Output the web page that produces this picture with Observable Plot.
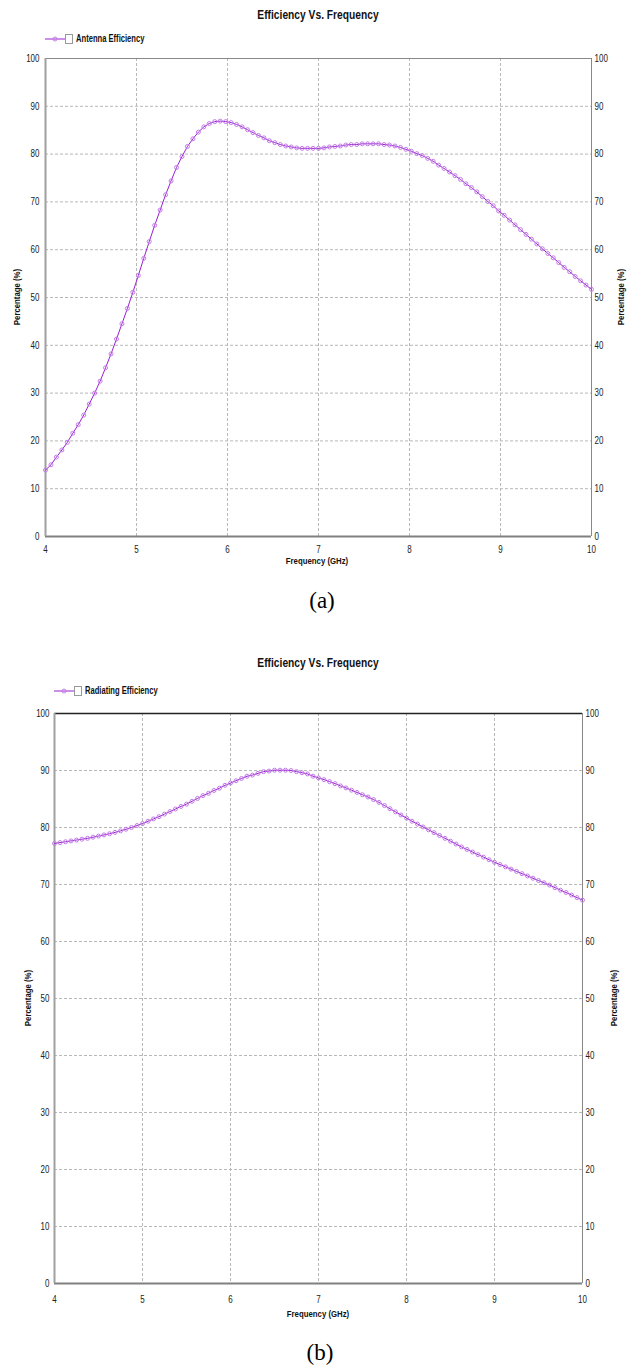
<!DOCTYPE html>
<html><head><meta charset="utf-8">
<script src="https://cdn.jsdelivr.net/npm/d3@7"></script>
<script src="https://cdn.jsdelivr.net/npm/@observablehq/plot@0.6"></script>
<style>
body{margin:0;background:#fff;width:630px;height:1365px;position:relative;overflow:hidden;
 font-family:"Liberation Sans Narrow","Arial Narrow","Liberation Sans",sans-serif;color:#222;}
.abs{position:absolute;white-space:nowrap;line-height:1;}
.c{transform:translate(-50%,-50%) scaleX(0.82);}
.title{font-weight:bold;font-size:12.5px;color:#111;}
.leg{font-weight:bold;font-size:10px;color:#111;display:flex;align-items:center;}
.leg span{display:inline-block;transform:scaleX(0.76);transform-origin:0 50%;}
.axl{font-weight:bold;font-size:9.5px;color:#111;}
.rot{transform:translate(-50%,-50%) rotate(-90deg) scaleX(0.82);}
.cap{font-family:"Liberation Serif","Times New Roman",serif;font-size:23px;color:#000;}
.cap.c{transform:translate(-50%,-50%);}
svg.plot{position:absolute;left:0;}
</style></head><body>
<script>
// ---- data ----
const xTicks = [4, 5, 6, 7, 8, 9, 10];
const yTicks = [0, 10, 20, 30, 40, 50, 60, 70, 80, 90, 100];
const titleText = "Efficiency Vs. Frequency";
const xLabel = "Frequency (GHz)";
const yLabel = "Percentage (%)";
const seriesA = "Antenna Efficiency";
const seriesB = "Radiating Efficiency";

const freqA = [4.00,4.06,4.12,4.18,4.24,4.30,4.36,4.42,4.48,4.54,4.60,4.66,4.72,4.78,4.84,4.90,4.96,5.02,5.08,5.14,
5.20,5.26,5.32,5.38,5.44,5.50,5.56,5.62,5.68,5.74,5.80,5.86,5.92,5.98,6.04,6.10,6.16,6.22,6.28,6.34,
6.40,6.46,6.52,6.58,6.64,6.70,6.76,6.82,6.88,6.94,7.00,7.06,7.12,7.18,7.24,7.30,7.36,7.42,7.48,7.54,
7.60,7.66,7.72,7.78,7.84,7.90,7.96,8.02,8.08,8.14,8.20,8.26,8.32,8.38,8.44,8.50,8.56,8.62,8.68,8.74,
8.80,8.86,8.92,8.98,9.04,9.10,9.16,9.22,9.28,9.34,9.40,9.46,9.52,9.58,9.64,9.70,9.76,9.82,9.88,9.94,10.00];
const effA = [13.9,15.0,16.6,18.1,19.7,21.6,23.4,25.4,27.7,30.0,32.5,35.3,38.2,41.3,44.5,47.7,51.1,54.6,58.2,61.7,
65.1,68.3,71.5,74.4,77.2,79.5,81.6,83.2,84.6,85.7,86.4,86.8,86.9,86.8,86.6,86.2,85.7,85.1,84.5,83.9,
83.4,82.8,82.4,82.0,81.7,81.5,81.3,81.2,81.2,81.2,81.2,81.3,81.5,81.6,81.7,81.9,82.0,82.0,82.15,82.15,
82.15,82.15,82.0,81.9,81.7,81.4,81.0,80.6,80.1,79.7,79.1,78.5,77.7,77.0,76.25,75.5,74.7,73.8,73.0,72.1,
71.1,70.1,69.2,68.1,67.2,66.2,65.2,64.2,63.2,62.2,61.2,60.2,59.2,58.3,57.3,56.3,55.4,54.4,53.5,52.6,51.7];

const freqB = [4,4.0625,4.125,4.1875,4.25,4.3125,4.375,4.4375,4.5,4.5625,4.625,4.6875,4.75,4.8125,4.875,4.9375,
5,5.0625,5.125,5.1875,5.25,5.3125,5.375,5.4375,5.5,5.5625,5.625,5.6875,5.75,5.8125,5.875,5.9375,
6,6.0625,6.125,6.1875,6.25,6.3125,6.375,6.4375,6.5,6.5625,6.625,6.6875,6.75,6.8125,6.875,6.9375,
7,7.0625,7.125,7.1875,7.25,7.3125,7.375,7.4375,7.5,7.5625,7.625,7.6875,7.75,7.8125,7.875,7.9375,
8,8.0625,8.125,8.1875,8.25,8.3125,8.375,8.4375,8.5,8.5625,8.625,8.6875,8.75,8.8125,8.875,8.9375,
9,9.0625,9.125,9.1875,9.25,9.3125,9.375,9.4375,9.5,9.5625,9.625,9.6875,9.75,9.8125,9.875,9.9375,10];
const effB = [77.2,77.35,77.5,77.65,77.8,77.95,78.1,78.3,78.5,78.7,78.9,79.15,79.4,79.7,80.0,80.35,
80.7,81.1,81.5,81.9,82.35,82.8,83.25,83.7,84.1,84.6,85.1,85.6,86.0,86.5,86.9,87.4,
87.8,88.2,88.6,89.0,89.2,89.5,89.8,89.9,90.05,90.05,90.05,90.0,89.8,89.6,89.4,89.0,
88.7,88.4,88.05,87.7,87.3,86.95,86.55,86.15,85.75,85.35,84.9,84.4,83.85,83.3,82.75,82.2,
81.65,81.1,80.6,80.1,79.6,79.1,78.6,78.1,77.6,77.1,76.6,76.15,75.7,75.25,74.8,74.35,
73.9,73.5,73.1,72.7,72.3,71.9,71.5,71.1,70.7,70.3,69.9,69.45,69.0,68.6,68.15,67.7,67.25];

const lineColor = "#9a1fd0";
const dotColor = "#c27de8";

function addText(cls, txt, x, y){
  const d = document.createElement("div");
  d.className = "abs " + cls;
  d.style.left = x + "px"; d.style.top = y + "px";
  d.textContent = txt;
  document.body.appendChild(d);
  return d;
}
function addLegend(txt, x, y){
  const d = document.createElement("div");
  d.className = "abs leg";
  d.style.left = x + "px"; d.style.top = (y - 6) + "px";
  d.innerHTML = `<svg width="30" height="12" style="margin-right:1px">
    <line x1="0" y1="6" x2="20" y2="6" stroke="${lineColor}" stroke-width="1"/>
    <circle cx="10" cy="6" r="2" fill="none" stroke="${dotColor}" stroke-width="1"/>
    <rect x="20.5" y="1.5" width="7" height="9" fill="#fff" stroke="#999" stroke-width="1"/>
  </svg><span>${txt}</span>`;
  document.body.appendChild(d);
}

function chart(freq, eff, o){
  const data = freq.map((f, i) => ({f, v: eff[i]}));
  const svg = Plot.plot({
    width: 630, height: o.height,
    marginLeft: o.ml, marginRight: o.mr, marginTop: 10, marginBottom: o.mb,
    x: {domain: [4, 10]},
    y: {domain: [0, 100]},
    style: {fontFamily: '"Liberation Sans Narrow","Arial Narrow","Liberation Sans",sans-serif', fontSize: "10px", color: "#222", background: "transparent"},
    marks: [
      Plot.gridX(xTicks.slice(1, -1), {stroke: "#b8b8b8", strokeOpacity: 1, strokeDasharray: "3,2"}),
      Plot.gridY(yTicks.slice(1, -1), {stroke: "#b8b8b8", strokeOpacity: 1, strokeDasharray: "3,2"}),
      Plot.ruleY([100], {stroke: o.topColor, strokeWidth: o.topWidth}),
      Plot.ruleX([10], {stroke: "#888", strokeWidth: 1}),
      Plot.ruleY([0], {stroke: "#808080", strokeWidth: 2}),
      Plot.ruleX([4], {stroke: "#a0a0a0", strokeWidth: 2}),
      Plot.axisX(xTicks, {tickSize: 0, tickPadding: o.xpad, label: null}),
      Plot.axisY(yTicks, {anchor: "left", tickSize: 0, tickPadding: o.lpad, label: null}),
      Plot.axisY(yTicks, {anchor: "right", tickSize: 0, tickPadding: 3, label: null}),
      Plot.line(data, {x: "f", y: "v", stroke: lineColor, strokeWidth: 1}),
      Plot.dot(data, {x: "f", y: "v", r: 2, stroke: dotColor, fill: "none", strokeWidth: 1})
    ]
  });
  // condense tick labels horizontally (narrow face not installed)
  svg.querySelectorAll('g[aria-label$="tick label"] text').forEach(t => {
    const tr = t.getAttribute("transform");
    if (tr && tr.includes("translate") && !t.hasAttribute("x")) t.setAttribute("transform", tr + " scale(0.8,1)");
  });
  svg.classList.add("plot");
  svg.style.top = o.top + "px";
  document.body.appendChild(svg);
}

// ---- chart (a) ----
addText("title c", titleText, 318, 15);
addLegend(seriesA, 45, 39);
chart(freqA, effA, {top: 48, height: 530, ml: 45, mr: 39, mb: 42, xpad: 9, lpad: 6, topColor: "#888", topWidth: 1});
addText("axl c", xLabel, 317, 561);
addText("axl rot", yLabel, 17, 297);
addText("axl rot", yLabel, 621, 297);
addText("cap c", "(a)", 322, 600);

// ---- chart (b) ----
addText("title c", titleText, 318, 663);
addLegend(seriesB, 54, 691);
chart(freqB, effB, {top: 703, height: 622, ml: 54, mr: 48, mb: 42, xpad: 12, lpad: 5, topColor: "#222", topWidth: 1.5});
addText("axl c", xLabel, 318, 1314);
addText("axl rot", yLabel, 28, 998);
addText("axl rot", yLabel, 614, 998);
addText("cap c", "(b)", 320, 1352);
</script>
</body></html>
